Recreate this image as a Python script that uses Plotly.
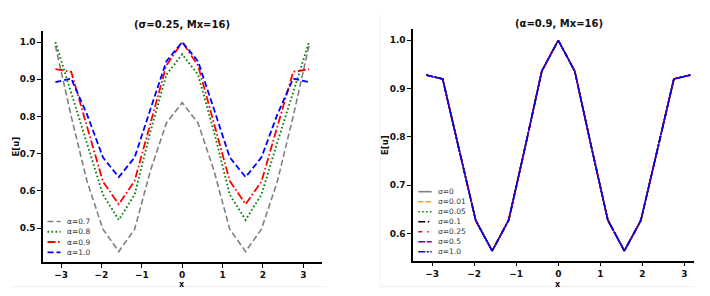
import plotly.graph_objects as go

# ---------------- data ----------------
X = [-3.1416, -2.7489, -2.3562, -1.9635, -1.5708, -1.1781, -0.7854, -0.3927, 0.0,
     0.3927, 0.7854, 1.1781, 1.5708, 1.9635, 2.3562, 2.7489, 3.1416]

# left panel: sigma = 0.25, varying alpha
ALPHA_LABELS = ["α=0.7", "α=0.8", "α=0.9", "α=1.0"]
E_ALPHA_07 = [0.990, 0.800, 0.625, 0.497, 0.437, 0.497, 0.655, 0.782, 0.837,
              0.782, 0.655, 0.497, 0.437, 0.497, 0.625, 0.800, 0.990]
E_ALPHA_08 = [1.000, 0.865, 0.730, 0.590, 0.522, 0.590, 0.760, 0.912, 0.967,
              0.912, 0.760, 0.590, 0.522, 0.590, 0.730, 0.865, 1.000]
E_ALPHA_09 = [0.927, 0.920, 0.772, 0.625, 0.564, 0.627, 0.782, 0.937, 1.000,
              0.937, 0.782, 0.627, 0.564, 0.625, 0.772, 0.920, 0.927]
E_ALPHA_10 = [0.892, 0.902, 0.805, 0.690, 0.637, 0.690, 0.820, 0.948, 1.000,
              0.948, 0.820, 0.690, 0.637, 0.690, 0.805, 0.902, 0.892]

# right panel: alpha = 0.9, varying sigma (curves coincide)
SIGMA_LABELS = ["σ=0", "σ=0.01", "σ=0.05", "σ=0.1", "σ=0.25", "σ=0.5", "σ=1.0"]
E_SIGMA_0 = [0.928, 0.920, 0.773, 0.627, 0.564, 0.628, 0.780, 0.936, 1.000,
             0.936, 0.780, 0.628, 0.564, 0.627, 0.773, 0.920, 0.928]
E_SIGMA_001 = list(E_SIGMA_0)
E_SIGMA_005 = list(E_SIGMA_0)
E_SIGMA_01 = list(E_SIGMA_0)
E_SIGMA_025 = list(E_SIGMA_0)
E_SIGMA_05 = list(E_SIGMA_0)
E_SIGMA_10 = list(E_SIGMA_0)

X_TICKS = [-3, -2, -1, 0, 1, 2, 3]
Y_TICKS_LEFT = [0.5, 0.6, 0.7, 0.8, 0.9, 1.0]
Y_TICKS_RIGHT = [0.6, 0.7, 0.8, 0.9, 1.0]

# ---------------- styles ----------------
OFF = 8  # page body margin
W, H = 710 - 2 * OFF, 296 - 2 * OFF
FONT = "DejaVu Sans"

left_styles = [
    dict(color="#808080", dash="6px,3px", width=1.6),
    dict(color="#008000", dash="1.6px,2.4px", width=1.9),
    dict(color="#ff0000", dash="8px,2.5px,1.6px,2.5px", width=1.8),
    dict(color="#0000ff", dash="6px,3px", width=1.8),
]
right_styles = [
    dict(color="#808080", dash="solid", width=1.6),
    dict(color="#ffa500", dash="5px,2.5px", width=1.6),
    dict(color="#008000", dash="1.5px,2.4px", width=1.6),
    dict(color="#000000", dash="7px,2.5px,1.5px,2.5px", width=1.6),
    dict(color="#ff0000", dash="4px,5px,1.5px,5px", width=1.6),
    dict(color="#800080", dash="7px,1.5px", width=1.6),
    dict(color="#0000ff", dash="7px,1.5px,2px,1.5px", width=1.6),
]

fig = go.Figure()

left_series = [E_ALPHA_07, E_ALPHA_08, E_ALPHA_09, E_ALPHA_10]
for lab, ys, st in zip(ALPHA_LABELS, left_series, left_styles):
    fig.add_trace(go.Scatter(x=X, y=ys, mode="lines", name=lab, line=st,
                             xaxis="x", yaxis="y", showlegend=False))

right_series = [E_SIGMA_0, E_SIGMA_001, E_SIGMA_005, E_SIGMA_01, E_SIGMA_025,
                E_SIGMA_05, E_SIGMA_10]
for lab, ys, st in zip(SIGMA_LABELS, right_series, right_styles):
    fig.add_trace(go.Scatter(x=X, y=ys, mode="lines", name=lab, line=st,
                             xaxis="x2", yaxis="y2", showlegend=False))

tickfont = dict(family=FONT, size=9, color="#111", weight="bold")
axis_common = dict(showline=True, linecolor="black", linewidth=1.6,
                   ticks="outside", ticklen=3.5, tickwidth=1.2, tickcolor="black",
                   showgrid=False, zeroline=False, tickfont=tickfont)


def px(v):
    return (v - OFF) / W


def py(v):
    return 1 - (v - OFF) / H


fig.update_layout(
    width=W, height=H,
    margin=dict(l=0, r=0, t=0, b=0),
    paper_bgcolor="white", plot_bgcolor="white",
    showlegend=False,
    xaxis=dict(domain=[px(42.7), px(321.7)], range=[-3.456, 3.456], anchor="y",
               tickvals=X_TICKS, **axis_common),
    yaxis=dict(domain=[py(262.3), py(31)], range=[0.408, 1.0296], anchor="x",
               tickvals=Y_TICKS_LEFT, tickformat=".1f", **axis_common),
    xaxis2=dict(domain=[px(412.7), px(694.3)], range=[-3.462, 3.235], anchor="y2",
                tickvals=X_TICKS, **axis_common),
    yaxis2=dict(domain=[py(260.7), py(29.3)], range=[0.5437, 1.0228], anchor="x2",
                tickvals=Y_TICKS_RIGHT, tickformat=".1f", **axis_common),
)

annotations = []
shapes = []

# faint sub-figure borders
shapes.append(dict(type="line", xref="paper", yref="paper", x0=px(10), x1=px(327),
                   y0=py(286.7), y1=py(286.7), line=dict(color="#efefef", width=1),
                   layer="below"))
shapes.append(dict(type="line", xref="paper", yref="paper", x0=px(380), x1=px(695),
                   y0=py(286.7), y1=py(286.7), line=dict(color="#efefef", width=1),
                   layer="below"))
shapes.append(dict(type="line", xref="paper", yref="paper", x0=px(380), x1=px(380),
                   y0=py(15), y1=py(286.7), line=dict(color="#f2f2f2", width=1),
                   layer="below"))

# titles
annotations.append(dict(text="(σ=0.25, Mx=16)", x=px(182), y=py(24), xref="paper",
                        yref="paper", showarrow=False, xanchor="center", yanchor="middle",
                        font=dict(family=FONT, size=10, color="#111", weight="bold")))
annotations.append(dict(text="(α=0.9, Mx=16)", x=px(558.5), y=py(23.3), xref="paper",
                        yref="paper", showarrow=False, xanchor="center", yanchor="middle",
                        font=dict(family=FONT, size=10, color="#111", weight="bold")))
# axis labels
lab_font = dict(family=FONT, size=8.5, color="#111", weight="bold")
x_font = dict(family=FONT, size=8, color="#111", weight="bold")
for xc, yc in [(182.3, 284.2), (558.3, 284.0)]:
    annotations.append(dict(text="x", x=px(xc), y=py(yc), xref="paper", yref="paper",
                            showarrow=False, xanchor="center", yanchor="middle",
                            font=x_font))
for xc, yc in [(15, 146.5), (385, 145)]:
    annotations.append(dict(text="E[u]", x=px(xc), y=py(yc), xref="paper", yref="paper",
                            showarrow=False, xanchor="center", yanchor="middle",
                            textangle=-90, font=lab_font))

# manual legends
leg_font = dict(family=FONT, size=7.5, color="#333")
left_rows = [221.5, 231.8, 242.0, 252.3]
for lab, st, yr in zip(ALPHA_LABELS, left_styles, left_rows):
    shapes.append(dict(type="line", xref="paper", yref="paper", x0=px(47.5), x1=px(60.5),
                       y0=py(yr), y1=py(yr),
                       line=dict(color=st["color"], dash=st["dash"], width=st["width"])))
    annotations.append(dict(text=lab, x=px(64.5), y=py(yr), xref="paper", yref="paper",
                            showarrow=False, xanchor="left", yanchor="middle",
                            font=leg_font))
right_rows = [191.7, 201.7, 211.7, 221.7, 231.7, 241.7, 251.7]
for lab, st, yr in zip(SIGMA_LABELS, right_styles, right_rows):
    shapes.append(dict(type="line", xref="paper", yref="paper", x0=px(418.3), x1=px(431.7),
                       y0=py(yr), y1=py(yr),
                       line=dict(color=st["color"], dash=st["dash"], width=st["width"])))
    annotations.append(dict(text=lab, x=px(435.5), y=py(yr), xref="paper", yref="paper",
                            showarrow=False, xanchor="left", yanchor="middle",
                            font=leg_font))

fig.update_layout(annotations=annotations, shapes=shapes)
fig.write_html("out.html")
